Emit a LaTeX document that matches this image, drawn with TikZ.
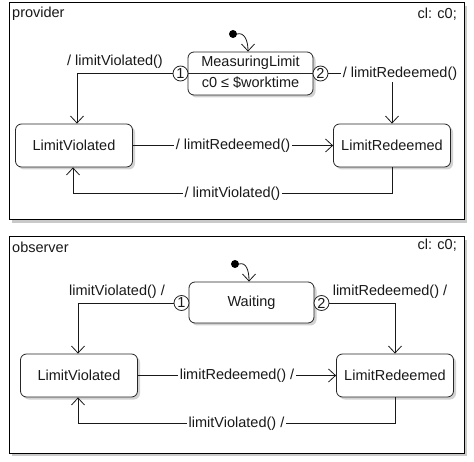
\documentclass[tikz,border=0pt]{standalone}
\usepackage{fontspec}
\setmainfont{Liberation Sans}
\usetikzlibrary{arrows.meta,shadows}
\begin{document}
\begin{tikzpicture}[x=1pt,y=-1pt,
  every node/.style={font=\fontsize{14.5pt}{17pt}\selectfont, text=black!90},
  frame/.style={draw=black, line width=1pt, fill=white, inner sep=0pt,
    drop shadow={shadow xshift=3pt, shadow yshift=-3pt, fill=black!30, opacity=0.7}},
  statebox/.style={draw=black!85, line width=0.8pt, fill=white, rounded corners=6pt,
    minimum width=117pt, minimum height=43pt, inner sep=0pt,
    drop shadow={shadow xshift=2.5pt, shadow yshift=-2.5pt, fill=black!25, opacity=0.7}},
  portcirc/.style={circle, draw=black!85, line width=0.8pt, fill=white, minimum size=15pt, inner sep=0pt},
  arr/.style={draw=black!90, line width=0.8pt, -{Straight Barb[length=7pt,width=13pt]}},
  lbl/.style={inner sep=1pt},
  lblw/.style={fill=white, inner sep=1.5pt},
  initdot/.style={circle, fill=black, minimum size=8pt, inner sep=0pt},
  title/.style={anchor=west, inner sep=0pt},
  titler/.style={anchor=east, inner sep=0pt}
]
\useasboundingbox (0,0) rectangle (474,462);

% ---------- provider ----------
\node[frame, minimum width=455pt, minimum height=217pt] (pf) at (236.5,111.5) {};
\node[title] (pt) at (12,14) {provider};
\node[titler] (pc) at (457,14) {cl: c0;};

\node[statebox, minimum width=125pt] (ml) at (250.5,73.5) {};
\draw[draw=black!85, line width=0.8pt] (ml.west) -- (ml.east);
\node (mlt) at (250.5,63) {MeasuringLimit};
\node (mlb) at (250.5,83) {c0 ≤ \$worktime};
\node[portcirc] (pc1) at (180.5,73.5) {1};
\node[portcirc] (pc2) at (320.5,73.5) {2};

\node[statebox] (plv) at (74,145.5) {LimitViolated};
\node[statebox] (plr) at (392,145.5) {LimitRedeemed};

\node[initdot] (pi) at (233,34) {};
\draw[arr] (pi.east) .. controls (244,32) and (248,40) .. ([xshift=-2.5pt]ml.north);

\draw[arr] (pc1.west) -| ([xshift=3pt]plv.north);
\node[lbl] (pl1) at (115,62) {/ limitViolated()};

\draw[arr] (pc2.east) -| (plr.north);
\node[lblw] (pl2) at (400,73.5) {/ limitRedeemed()};

\draw[arr] (plv.east) -- node[lblw] (pl3) {/ limitRedeemed()} (plr.west);

\draw[arr] (plr.south) -- ++(0,26) -| node[pos=0.25, lblw] (pl4) {/ limitViolated()} ([xshift=-1pt]plv.south);

% ---------- observer ----------
\node[frame, minimum width=455pt, minimum height=216pt] (of) at (236.5,345) {};
\node[title] (ot) at (12,247) {observer};
\node[titler] (oc) at (457,245) {cl: c0;};

\node[statebox, minimum width=125pt, minimum height=41pt] (wt) at (251.5,302.5) {Waiting};
\node[portcirc] (oc1) at (181.5,303) {1};
\node[portcirc] (oc2) at (321.5,303) {2};

\node[statebox] (olv) at (79,375.5) {LimitViolated};
\node[statebox] (olr) at (395,375.5) {LimitRedeemed};

\node[initdot] (oi) at (235,264) {};
\draw[arr] (oi.east) .. controls (246,262) and (249,270) .. ([xshift=-2.5pt]wt.north);

\draw[arr] (oc1.west) -| ([xshift=-1pt]olv.north);
\node[lbl] (ol1) at (117,292) {limitViolated() /};

\draw[arr] (oc2.east) -| (olr.north);
\node[lbl] (ol2) at (390,292) {limitRedeemed() /};

\draw[arr] (olv.east) -- node[lblw] (ol3) {limitRedeemed() /} (olr.west);

\draw[arr] (olr.south) -- ++(0,26) -| node[pos=0.25, lblw] (ol4) {limitViolated() /} ([xshift=-1pt]olv.south);
\end{tikzpicture}
\end{document}
